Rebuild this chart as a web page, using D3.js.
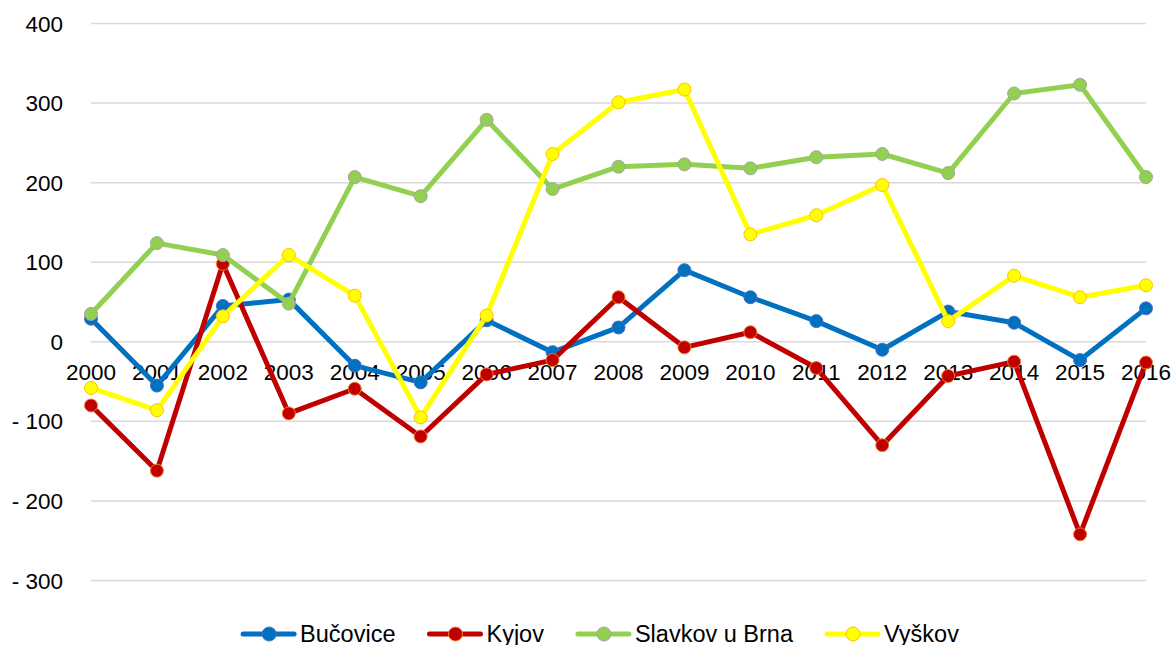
<!DOCTYPE html>
<html>
<head>
<meta charset="utf-8">
<script src="https://cdn.jsdelivr.net/npm/d3@7"></script>
<style>
  body { margin: 0; background: #fff; }
  text { font-family: "Liberation Sans", Arial, sans-serif; fill: #000; }
</style>
</head>
<body>
<script>
const width = 1175;
const height = 645;

// Data
const years = [2000, 2001, 2002, 2003, 2004, 2005, 2006, 2007, 2008, 2009, 2010, 2011, 2012, 2013, 2014, 2015, 2016];
const bucovice = [29, -55, 45, 53, -30, -51, 27, -13, 18, 90, 56, 26, -10, 38, 24, -23, 42];
const kyjov = [-80, -162, 98, -90, -59, -119, -41, -23, 56, -7, 12, -33, -130, -43, -25, -242, -26];
const slavkov = [35, 124, 109, 48, 207, 183, 279, 192, 220, 223, 218, 232, 236, 212, 312, 323, 207];
const vyskov = [-58, -86, 32, 109, 58, -95, 33, 236, 301, 317, 135, 159, 197, 26, 83, 56, 71];
const yTicks = [400, 300, 200, 100, 0, -100, -200, -300];

const series = [
  { name: "Bučovice", values: bucovice, color: "#0070C0", stroke: "#4472C4" },
  { name: "Kyjov", values: kyjov, color: "#C00000", stroke: "#ED7D31" },
  { name: "Slavkov u Brna", values: slavkov, color: "#92D050", stroke: "#A5A5A5" },
  { name: "Vyškov", values: vyskov, color: "#FFFF00", stroke: "#FFC000" }
];

const x = d3.scalePoint().domain(years).range([91, 1146]);
const y = d3.scaleLinear().domain([-300, 400]).range([580.5, 23.5]);

const svg = d3.select("body").append("svg")
  .attr("width", width)
  .attr("height", height);

// gridlines
svg.append("g")
  .selectAll("line")
  .data(yTicks)
  .join("line")
  .attr("x1", 91)
  .attr("x2", 1146)
  .attr("y1", d => y(d))
  .attr("y2", d => y(d))
  .attr("stroke", "#d9d9d9")
  .attr("stroke-width", 1.5);

// y labels
svg.append("g")
  .selectAll("text")
  .data(yTicks)
  .join("text")
  .attr("x", 63)
  .attr("y", d => y(d))
  .attr("dy", "0.36em")
  .attr("text-anchor", "end")
  .style("font-size", "22.5px")
  .text(d => d < 0 ? "- " + Math.abs(d) : d);

// x labels, sitting just under the zero line
svg.append("g")
  .selectAll("text")
  .data(years)
  .join("text")
  .attr("x", d => x(d))
  .attr("y", y(0) + 38)
  .attr("text-anchor", "middle")
  .style("font-size", "22.5px")
  .text(d => d);

const line = d3.line()
  .x((d, i) => x(years[i]))
  .y(d => y(d));

series.forEach(s => {
  const g = svg.append("g");
  g.append("path")
    .datum(s.values)
    .attr("d", line)
    .attr("fill", "none")
    .attr("stroke", s.color)
    .attr("stroke-width", 5)
    .attr("stroke-linejoin", "round");
  g.selectAll("circle")
    .data(s.values)
    .join("circle")
    .attr("cx", (d, i) => x(years[i]))
    .attr("cy", d => y(d))
    .attr("r", 6.5)
    .attr("fill", s.color)
    .attr("stroke", s.stroke)
    .attr("stroke-width", 1);
});

// legend
const legend = svg.append("g");
let lx = 0;
series.forEach(s => {
  const item = legend.append("g").attr("transform", `translate(${lx},0)`);
  item.append("line")
    .attr("x1", 2).attr("x2", 53)
    .attr("y1", 0).attr("y2", 0)
    .attr("stroke", s.color)
    .attr("stroke-width", 5)
    .attr("stroke-linecap", "round");
  item.append("circle")
    .attr("cx", 28).attr("cy", 0).attr("r", 7)
    .attr("fill", s.color)
    .attr("stroke", s.stroke)
    .attr("stroke-width", 1);
  const t = item.append("text")
    .attr("x", 59)
    .attr("y", 8)
    .style("font-size", "23.5px")
    .text(s.name);
  lx += 59 + t.node().getComputedTextLength() + 32;
});
const legendW = lx - 32;
legend.attr("transform", `translate(${600 - legendW / 2},634)`);
</script>
</body>
</html>
